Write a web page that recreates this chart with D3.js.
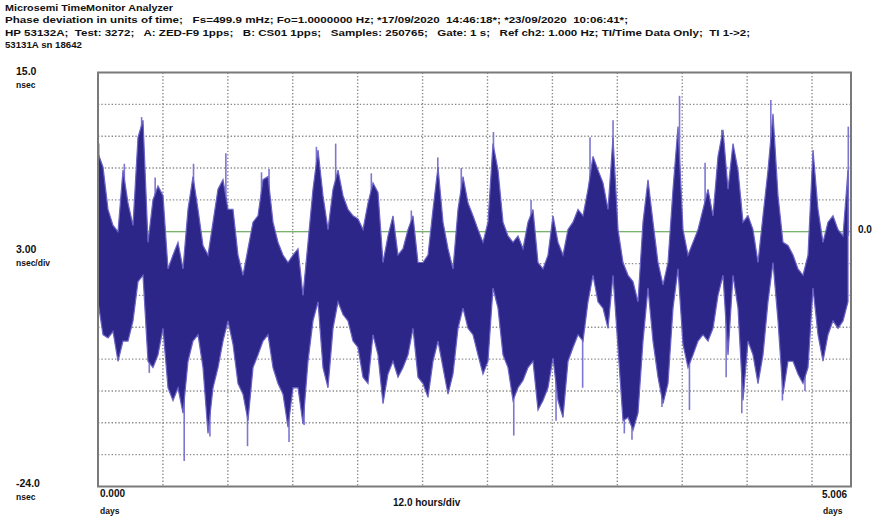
<!DOCTYPE html>
<html>
<head>
<meta charset="utf-8">
<script src="https://cdn.jsdelivr.net/npm/d3@7"></script>
<style>
  html, body { margin: 0; padding: 0; background: #ffffff; }
  svg { display: block; }
  text { font-family: "Liberation Sans", "DejaVu Sans", sans-serif; fill: #111; white-space: pre; }
</style>
</head>
<body>
<svg id="chart" width="878" height="518"></svg>
<script>
// Header lines of the TimeMonitor report
const headerLines = [
  "Microsemi TimeMonitor Analyzer",
  "Phase deviation in units of time;   Fs=499.9 mHz; Fo=1.0000000 Hz; *17/09/2020  14:46:18*; *23/09/2020  10:06:41*;",
  "HP 53132A;  Test: 3272;   A: ZED-F9 1pps;   B: CS01 1pps;   Samples: 250765;   Gate: 1 s;   Ref ch2: 1.000 Hz; TI/Time Data Only;  TI 1->2;",
  "53131A sn 18642"
];
const headerWidths = [168, 623, 745, 77];

// Axis range (nsec) and time span (days)
const yRange = [-24.0, 15.0];
const yStep = 3.0;
const spanDays = 5.006;
const gridDivisions = 11.6;   // 12.0 hours/div grid as drawn by the analyzer

// Phase envelope per display column group (nsec): upper and lower extent
const hiNs = [
  7.4, 6.1, 2.1, 0.6, 0, 5.8, 2.7, 0.6, 8.9, 10.5, -1, 3, 4.3, 3.4, -3.5, -2.2, -1, -3.5, 2.1, 5.2,
  2.1, -1.3, -2.2, 0.9, 4, 4.9, 2.1, 2.1, -2.2, -4.1, -1.6, 0.9, 1.5, 4.9, 5.2, 0.9, -1, -2.2, -2.9, -2.2,
  -1.6, -6, -1, 4, 7.7, 3.4, 0.2, 4, 5.8, 3.4, 2.1,
  1.5, 1.2, 0.2, 2.7, 4.6, 3.7, -2.9, -0.4, 1.5, -2.2, -1.6, 0.2, 1.5, -2.9, -2.9, -2.2, 2.1, 6.1, 0.9, -1.6,
  -3.5, 2.1, 5.2, 2.7, 1.5, 0.2, -1, 0.9, 8.3, 5.8, 0.9, -0.4, -1, -0.4, -1.6, 0.9, 2.1, -2.9, -3.5, -2.2,
  1.5, -1, -2.2, 0.2, 0.9, 2.1, 1.5, 4, 7.1, 5.8, 4.6,
  2.1, 8.9, 0.2, -2.9, -4.1, -4.7, -6.6, 0.9, 4.9, 0.9, -2.9, -5, -2.9, 4, 9.9, 0.2, -2.2, -1, 0.2, 2.1,
  4, 1.5, 7.1, 9.6, 4, 8.3, 5.8, 0.9, 1.5, 0.2, -2.9, 1.5, 5.8, 11.1, 3.4, -1, -1.3, -2.2, -3.5, -4.1,
  -2.2, 7.7, 2.1, -1, 0.9, 1.5, 0.2, -0.4, 5.8
];
const loNs = [
  -6.6, -9.7, -10, -9.4, -12.2, -10.3, -10.3, -8.4, -4.7, -4.1, -12.2, -12.8, -11.6, -9.1, -14.7, -15.9, -14.7, -17.1, -12.2, -10.3,
  -9.7, -12.8, -19, -14.7, -12.8, -10.3, -8.4, -10.6, -14.3, -15.3, -17.8, -12.8, -11.6, -10.3, -9.7, -12.8, -14.3, -15.3, -18.4, -14.7,
  -14.7, -18.1, -12.2, -8.4, -6.6, -12.8, -14.7, -9.1, -6.6, -7.8, -8.4,
  -10.3, -10.9, -13.7, -14.3, -9.7, -11.6, -16.2, -13.4, -12.2, -13.7, -12.8, -11.6, -9.1, -13.7, -14.3, -15.6, -12.2, -10.3, -12.8, -15.3,
  -13.4, -9.1, -7.2, -9.1, -9.7, -11.6, -13.4, -12.2, -5.3, -7.2, -11.6, -12.8, -15.9, -14.7, -14, -12.8, -12.2, -16.8, -15.9, -14.7,
  -11.9, -15.9, -17.5, -12.2, -10.9, -9.7, -10.3, -6.6, -4.1, -6.6, -7.2,
  -9.1, -4.1, -10.9, -17.8, -17.5, -18.7, -17.1, -10.3, -5.3, -10.3, -13.7, -16.2, -14.3, -7.2, -3.5, -10.6, -12.8, -11.6, -10.3, -9.7,
  -10.3, -9.1, -6, -4.1, -11.6, -4.1, -7.2, -15.9, -10.3, -11.6, -14.3, -11.6, -6.6, -2.9, -8.4, -15.3, -12.2, -12.2, -13.4, -14.3,
  -12.8, -5.3, -9.7, -12.2, -9.7, -8.4, -9.1, -8.4, -6.6
];

// Isolated excursions beyond the dense trace: time (days) and phase (nsec)
const spikeDays = [0.005, 0.175, 0.290, 0.341, 0.380, 0.573, 0.635, 0.744, 0.850, 0.994, 1.087, 1.137, 1.270, 1.370, 1.452, 1.580,
  1.817, 2.083, 2.259, 2.415, 2.629, 2.764, 2.879, 3.045, 3.222, 3.271,
  3.424, 3.499, 3.550, 3.749, 3.866, 3.932, 4.036, 4.147, 4.176, 4.280, 4.473, 4.550, 4.700, 4.988];
const spikeNs = [8.3, 6.4, 10.8, -13.3, 5.1, -21.6, 6.4, -19.3, 7.4, -20.2, 5.6, 5.9, -19.8, -18.2, 8.0, 8.3,
  5.5, 2.0, 7.0, 6.0, 9.4, -19.2, 3.0, -17.8, -14.7, 8.9,
  10.5, -19.0, -19.6, -16.5, 12.8, -16.8, 6.5, 9.6, -13.7, -17.1, 12.4, -15.9, -15.0, 9.9];

const svg = d3.select("#chart");
const plot = { left: 98, right: 851, top: 72.5, bottom: 486.5 };

const x = d3.scaleLinear().domain([0, spanDays]).range([plot.left, plot.right]);
const y = d3.scaleLinear().domain(yRange).range([plot.bottom, plot.top]);
const gx = d3.scaleLinear().domain([0, gridDivisions]).range([plot.left, plot.right]);

// Header
svg.append("g").selectAll("text").data(headerLines).join("text")
  .attr("x", 5)
  .attr("y", (d, i) => 10.5 + i * 12.6)
  .attr("font-size", 9.6)
  .attr("font-weight", "bold")
  .attr("textLength", (d, i) => headerWidths[i])
  .attr("lengthAdjust", "spacingAndGlyphs")
  .text(d => d);

// Grid
const grid = svg.append("g").attr("stroke", "#8c8c8c").attr("stroke-width", 1.4)
  .attr("stroke-dasharray", "1.4 2");
const hTicks = d3.range(yRange[0] + yStep, yRange[1] - 0.01, yStep).filter(v => Math.abs(v) > 1e-6);
grid.selectAll("line.h").data(hTicks).join("line")
  .attr("class", "h")
  .attr("x1", plot.left).attr("x2", plot.right)
  .attr("y1", d => y(d)).attr("y2", d => y(d));
grid.selectAll("line.v").data(d3.range(1, Math.floor(gridDivisions) + 1)).join("line")
  .attr("class", "v")
  .attr("y1", plot.top).attr("y2", plot.bottom)
  .attr("x1", d => gx(d)).attr("x2", d => gx(d));

// Zero reference line
svg.append("line")
  .attr("x1", plot.left).attr("x2", plot.right)
  .attr("y1", y(0)).attr("y2", y(0))
  .attr("stroke", "#4d9a3c").attr("stroke-width", 1.2);

// Trace: min/max envelope of each column group
const step = spanDays * 5 / (plot.right - plot.left);
const samples = hiNs.map((h, i) => ({ t: i * step, hi: h, lo: loNs[i] }));

const trace = svg.append("g");

// sparse excursions, drawn under the dense envelope
trace.selectAll("line.spike").data(spikeDays.map((t, i) => ({ t, v: spikeNs[i] }))).join("line")
  .attr("class", "spike")
  .attr("x1", d => x(d.t)).attr("x2", d => x(d.t))
  .attr("y1", d => y(d.v))
  .attr("y2", d => {
    const s = samples[Math.min(samples.length - 1, Math.round(d.t / step))];
    return y((s.hi + s.lo) / 2);
  })
  .attr("stroke", "#7d76d2").attr("stroke-width", 1.6);

const envelope = d3.area()
  .x(d => x(d.t))
  .y0(d => y(d.lo))
  .y1(d => y(d.hi))
  .curve(d3.curveLinear);

trace.append("path")
  .attr("d", envelope(samples))
  .attr("fill", "#2d2689")
  .attr("stroke", "#6a62c4")
  .attr("stroke-width", 1.2)
  .attr("stroke-linejoin", "miter");

// Frame
svg.append("rect")
  .attr("x", plot.left).attr("y", plot.top)
  .attr("width", plot.right - plot.left).attr("height", plot.bottom - plot.top)
  .attr("fill", "none").attr("stroke", "#7a7a7a").attr("stroke-width", 2);

// Axis labels
const labels = [
  { x: 16, y: 75, t: "15.0", s: 10.5 },
  { x: 16, y: 88, t: "nsec", s: 8.5 },
  { x: 16, y: 253, t: "3.00", s: 10.5 },
  { x: 16, y: 266, t: "nsec/div", s: 8.5 },
  { x: 16, y: 487, t: "-24.0", s: 10.5 },
  { x: 16, y: 500, t: "nsec", s: 8.5 },
  { x: 100, y: 497, t: "0.000", s: 10 },
  { x: 100, y: 514, t: "days", s: 8.5 },
  { x: 393, y: 506, t: "12.0 hours/div", s: 10 },
  { x: 822, y: 498, t: "5.006", s: 10 },
  { x: 823, y: 514, t: "days", s: 8.5 },
  { x: 858, y: 233, t: "0.0", s: 10 }
];
svg.append("g").selectAll("text").data(labels).join("text")
  .attr("x", d => d.x).attr("y", d => d.y)
  .attr("font-size", d => d.s)
  .attr("font-weight", "bold")
  .text(d => d.t);
</script>
</body>
</html>
